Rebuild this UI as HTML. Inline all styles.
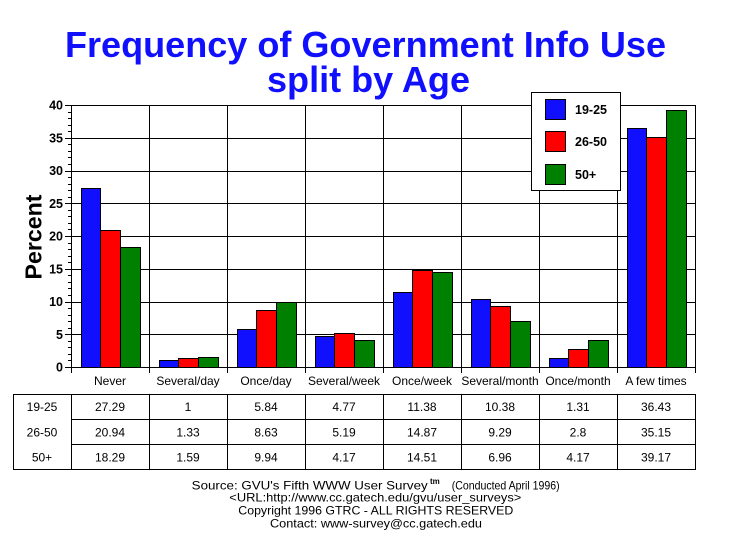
<!DOCTYPE html>
<html><head><meta charset="utf-8"><style>
html,body{margin:0;padding:0;background:#fff;}
svg{display:block;}
text{font-family:"Liberation Sans",Arial,sans-serif;}
</style></head><body>
<svg width="729" height="553" viewBox="0 0 729 553" xmlns="http://www.w3.org/2000/svg">
<rect width="729" height="553" fill="#fff"/>
<g fill="#1010ff" font-weight="bold" font-size="36" text-anchor="middle">
<text x="365.5" y="57" textLength="601" lengthAdjust="spacingAndGlyphs">Frequency of Government Info Use</text>
<text x="368.5" y="92" textLength="203" lengthAdjust="spacingAndGlyphs">split by Age</text>
</g>
<text transform="translate(41.5,237) rotate(-90)" text-anchor="middle" font-size="23" font-weight="bold" textLength="85" lengthAdjust="spacingAndGlyphs" fill="#000">Percent</text>
<g id="plot" shape-rendering="crispEdges" stroke="#000" stroke-width="1" fill="none"></g>
<g id="bars" shape-rendering="crispEdges" stroke="#000" stroke-width="1"></g>
<g id="labels" fill="#000"></g>
<g shape-rendering="crispEdges" stroke="#000" stroke-width="1">
<rect x="531.5" y="92.5" width="89" height="98" fill="#fff"/>
<rect x="545.5" y="99.5" width="20" height="20" fill="#1010ff"/>
<rect x="545.5" y="131.5" width="20" height="20" fill="#ff0000"/>
<rect x="545.5" y="164.5" width="20" height="20" fill="#008000"/>
</g>
<g font-weight="bold" font-size="12.5" fill="#000">
<text x="575" y="114">19-25</text>
<text x="575" y="146">26-50</text>
<text x="575" y="179">50+</text>
</g>
<g fill="#000" font-size="12">
<text x="191.7" y="489.5" textLength="236" lengthAdjust="spacingAndGlyphs">Source: GVU's Fifth WWW User Survey</text>
<text x="430" y="484" font-size="8" font-weight="bold">tm</text>
<text x="451.7" y="489.5" textLength="108" lengthAdjust="spacingAndGlyphs">(Conducted April 1996)</text>
<text x="229.3" y="501.5" textLength="292" lengthAdjust="spacingAndGlyphs">&lt;URL:http://www.cc.gatech.edu/gvu/user_surveys&gt;</text>
<text x="238.3" y="514.5" textLength="275" lengthAdjust="spacingAndGlyphs">Copyright 1996 GTRC -  ALL RIGHTS RESERVED</text>
<text x="270" y="527.5" textLength="212" lengthAdjust="spacingAndGlyphs">Contact: www-survey@cc.gatech.edu</text>
</g>
<script>
(function(){
var NS="http://www.w3.org/2000/svg";
function el(p,t,a,txt){var e=document.createElementNS(NS,t);for(var k in a)e.setAttribute(k,a[k]);if(txt!==undefined)e.textContent=txt;p.appendChild(e);return e;}
var plot=document.getElementById("plot"),bars=document.getElementById("bars"),lab=document.getElementById("labels");
var L=71,R=695,T=105,B=367,S=6.55,CW=78;
function Y(v){return B-v*S;}
for(var v=5;v<=40;v+=5){var y=Math.round(Y(v))+0.5;el(plot,"line",{x1:L,y1:y,x2:R+1,y2:y});}
el(plot,"line",{x1:65,y1:B+0.5,x2:R+1,y2:B+0.5});
for(var i=0;i<=8;i++){var x=L+CW*i+0.5;el(plot,"line",{x1:x,y1:T,x2:x,y2:373});}
for(var v=0;v<=40;v++){var y=Math.round(Y(v))+0.5;el(plot,"line",{x1:(v%5==0?65:68),y1:y,x2:L,y2:y});}
for(var v=0;v<=40;v+=5){el(lab,"text",{x:63,y:Y(v)+4.5,"text-anchor":"end","font-size":"12.5","font-weight":"bold"},String(v));}
var cats=["Never","Several/day","Once/day","Several/week","Once/week","Several/month","Once/month","A few times"];
var d=[[27.29,1,5.84,4.77,11.38,10.38,1.31,36.43],[20.94,1.33,8.63,5.19,14.87,9.29,2.8,35.15],[18.29,1.59,9.94,4.17,14.51,6.96,4.17,39.17]];
var cols=["#1010ff","#ff0000","#008000"];
var names=["19-25","26-50","50+"];
for(var i=0;i<8;i++){
 var c=L+CW*i;
 for(var s=0;s<3;s++){
  var x0=Math.round(c+9.5+19.7*s),x1=Math.round(c+9.5+19.7*(s+1));
  var yt=Math.round(Y(d[s][i]));
  el(bars,"rect",{x:x0+0.5,y:yt+0.5,width:x1-x0,height:B-yt,fill:cols[s]});
 }
 el(lab,"text",{x:c+39,y:385,"text-anchor":"middle","font-size":"12"},cats[i]);
}
var tg=el(document.querySelector("svg"),"g",{"shape-rendering":"crispEdges",stroke:"#000","stroke-width":"1",fill:"none"});
el(tg,"rect",{x:13.5,y:394.5,width:682,height:75});
for(var i=0;i<8;i++){var x=L+CW*i+0.5;el(tg,"line",{x1:x,y1:394.5,x2:x,y2:469.5});}
el(tg,"line",{x1:L,y1:419.5,x2:R,y2:419.5});
el(tg,"line",{x1:L,y1:444.5,x2:R,y2:444.5});
var rowY=[411,436.5,461.5];
for(var s=0;s<3;s++){
 el(lab,"text",{x:42,y:rowY[s],"text-anchor":"middle","font-size":"12"},names[s]);
 for(var i=0;i<8;i++){el(lab,"text",{x:L+CW*i+39,y:rowY[s],"text-anchor":"middle","font-size":"12"},String(d[s][i]));}
}
})();
</script>
</svg>
</body></html>
